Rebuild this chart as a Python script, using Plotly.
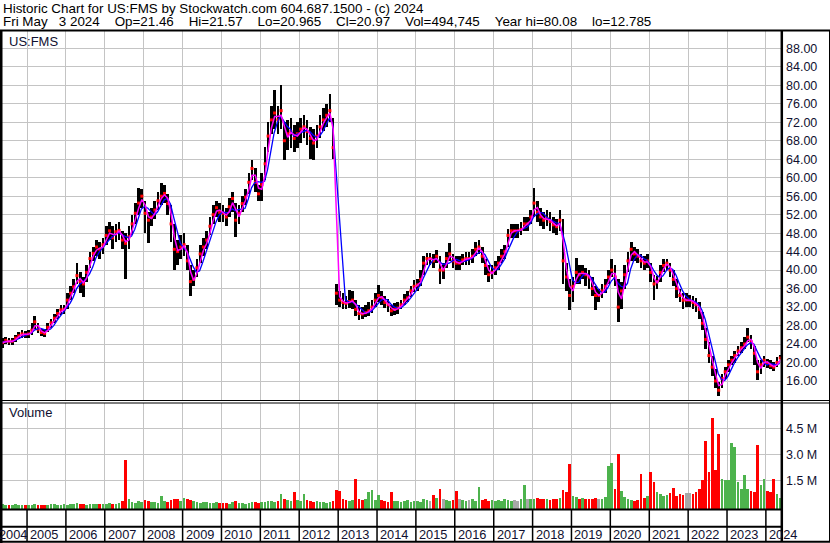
import pandas as pd
import plotly.graph_objects as go

W, H = 830, 543

# monthly values, May 2004 .. May 2024
months = pd.date_range("2004-05-01", "2024-05-01", freq="MS") + pd.Timedelta(days=14)

closes = [
    24.3, 24.8, 24.5, 24.6, 25.3, 25.8, 26.2, 26.0,
    26.2, 27.0, 28.8, 27.2, 26.5, 26.3, 27.6, 28.6, 29.6, 30.6, 31.4, 31.5,
    33.5, 35.0, 36.4, 38.8, 37.5, 37.0, 39.5, 42.5, 43.6, 45.0, 44.5, 45.5,
    47.5, 48.5, 47.0, 48.3, 48.6, 46.5, 45.8, 47.2, 50.0, 52.3, 54.5, 56.0,
    52.3, 50.8, 51.5, 53.0, 55.0, 56.0, 56.6, 54.4, 50.0, 44.5, 44.0, 45.0,
    45.5, 42.0, 37.5, 38.0, 40.5, 43.5, 45.0, 46.5, 49.5, 52.0, 53.5, 52.5,
    52.3, 51.5, 53.7, 55.5, 50.8, 52.3, 54.4, 55.8, 59.0, 62.0, 59.0, 56.5,
    58.5, 63.0, 69.0, 72.5, 74.0, 72.5, 74.5, 68.0, 69.5, 70.0, 68.5, 69.5,
    70.5, 71.0, 70.0, 68.5, 67.5, 69.0, 71.0, 72.5, 73.5, 74.5, 66.5, 35.0,
    33.5, 33.0, 32.8, 33.2, 33.5, 31.5, 30.6, 30.5, 30.8, 31.2, 32.0, 33.5,
    34.5, 34.0, 33.0, 32.5, 31.2, 31.5, 31.8, 32.5, 33.5, 34.0, 35.5, 36.5,
    36.8, 38.0, 41.5, 42.5, 42.5, 42.0, 43.0, 40.0, 40.0, 42.5, 43.5, 42.0,
    41.5, 41.5, 42.2, 42.5, 42.5, 43.0, 44.5, 45.0, 43.0, 41.0, 39.0, 39.5,
    40.5, 41.5, 43.0, 44.0, 47.5, 48.5, 48.5, 48.5, 48.8, 50.0, 50.0, 51.5,
    54.5, 52.5, 51.5, 50.8, 51.2, 50.5, 49.8, 49.4, 50.8, 42.0, 38.5, 34.5,
    36.5, 39.5, 39.0, 39.5, 39.0, 38.5, 36.0, 34.5, 34.5, 35.5, 36.5, 38.5,
    40.0, 38.5, 32.0, 35.5, 39.0, 42.0, 44.5, 43.5, 43.0, 42.0, 41.5, 42.0,
    39.5, 37.0, 37.5, 39.5, 41.0, 41.5, 40.0, 38.0, 36.0, 34.5, 33.5, 33.5,
    33.5, 33.0, 32.5, 31.5, 28.5, 25.0, 21.5, 19.0, 16.0, 14.0, 16.5, 18.0,
    19.5, 20.5, 21.5, 22.5, 23.2, 24.0, 25.5, 24.5, 22.0, 18.0, 19.5, 20.5,
    19.8, 19.3, 19.0, 20.0, 20.97,
]

highs = [
    25.2, 25.6, 25.4, 25.3, 26.0, 26.5, 27.0, 26.8,
    27.0, 28.5, 30.0, 28.5, 27.3, 27.2, 28.5, 29.5, 30.5, 31.5, 32.5, 32.5,
    35.0, 36.5, 38.0, 41.5, 39.5, 38.5, 41.0, 44.0, 45.0, 46.5, 46.0, 47.0,
    49.5, 50.5, 49.5, 50.0, 50.5, 48.5, 48.0, 49.5, 52.0, 54.5, 57.7, 57.5,
    55.0, 52.5, 53.5, 55.0, 57.0, 58.8, 58.5, 56.5, 54.0, 50.0, 46.5, 47.5,
    48.0, 45.5, 41.0, 40.0, 42.5, 45.5, 47.0, 48.5, 51.5, 54.0, 55.0, 54.5,
    54.0, 53.5, 55.5, 57.0, 54.5, 54.0, 56.0, 57.5, 61.0, 63.8, 62.0, 58.5,
    61.0, 66.6, 72.0, 75.5, 79.0, 75.5, 80.0, 72.0, 72.5, 73.0, 71.5, 72.0,
    73.0, 73.5, 72.5, 71.0, 70.5, 71.5, 73.5, 75.0, 76.0, 78.2, 73.0, 37.0,
    35.5, 35.0, 34.5, 35.7, 35.5, 33.5, 32.5, 32.0, 32.5, 33.0, 33.5, 35.0,
    36.7, 35.5, 34.5, 33.8, 32.5, 32.8, 33.0, 33.5, 34.8, 35.5, 36.5, 37.8,
    38.0, 40.0, 43.0, 43.8, 43.8, 43.5, 44.3, 43.0, 41.5, 44.0, 45.8, 43.5,
    43.0, 43.0, 43.5, 44.0, 44.0, 44.5, 46.0, 46.5, 45.0, 42.5, 41.0, 41.0,
    42.0, 43.0, 44.5, 45.5, 49.0, 50.0, 50.0, 50.0, 50.5, 51.5, 51.5, 53.0,
    57.8, 55.0, 53.5, 52.5, 53.0, 52.5, 51.5, 51.0, 53.0, 51.0, 41.5, 38.0,
    38.5, 42.6, 41.0, 41.0, 40.5, 40.0, 38.5, 36.5, 36.0, 37.0, 38.0, 40.0,
    42.5, 41.0, 38.0, 37.5, 41.0, 44.0, 46.1, 45.0, 44.5, 43.5, 43.0, 43.5,
    41.5, 39.0, 38.8, 41.0, 42.5, 42.5, 41.5, 40.0, 38.0, 36.0, 35.0, 35.0,
    34.6, 34.5, 34.0, 33.0, 31.0, 27.5, 24.5, 21.5, 18.5, 15.8, 17.5, 19.0,
    20.5, 21.5, 22.5, 23.5, 24.5, 25.5, 27.4, 26.0, 23.5, 20.5, 20.5, 21.5,
    20.8, 20.5, 20.2, 21.2, 21.57,
]

lows = [
    23.2, 24.0, 23.8, 23.9, 24.5, 25.0, 25.4, 25.3,
    25.3, 26.0, 27.2, 26.3, 25.8, 25.5, 26.5, 27.5, 28.5, 29.5, 30.3, 30.5,
    31.5, 33.5, 35.0, 37.0, 35.0, 34.2, 37.5, 40.5, 42.0, 43.0, 42.5, 43.5,
    45.5, 46.5, 44.5, 46.0, 46.5, 44.5, 38.0, 44.5, 47.5, 50.0, 52.0, 53.5,
    48.0, 45.8, 49.5, 51.0, 53.0, 54.0, 54.5, 52.0, 46.0, 40.0, 41.0, 42.5,
    43.0, 40.0, 34.5, 36.5, 38.5, 41.5, 43.0, 44.5, 47.5, 50.0, 51.5, 50.5,
    50.5, 49.5, 51.5, 52.5, 47.2, 50.0, 52.5, 54.0, 56.5, 59.5, 57.0, 55.0,
    55.0, 59.5, 65.5, 69.5, 70.5, 69.5, 70.5, 63.8, 66.0, 66.5, 65.5, 66.5,
    67.5, 68.5, 67.0, 64.0, 63.8, 66.5, 68.5, 70.0, 71.0, 72.0, 64.0, 32.5,
    32.0, 31.5, 31.5, 31.8, 31.5, 30.0, 29.2, 29.5, 29.8, 30.0, 30.8, 32.0,
    33.0, 32.5, 31.8, 31.0, 30.0, 30.3, 30.5, 31.5, 32.5, 33.0, 34.2, 35.2,
    35.5, 36.5, 39.0, 41.0, 41.0, 40.5, 41.5, 37.0, 38.0, 40.5, 42.0, 40.5,
    40.0, 40.0, 41.0, 41.0, 41.0, 41.5, 43.0, 43.5, 41.5, 39.0, 37.5, 38.0,
    39.0, 40.0, 41.5, 42.5, 45.0, 47.0, 47.0, 47.0, 47.5, 48.5, 48.5, 50.0,
    51.5, 50.5, 49.5, 49.0, 49.5, 48.5, 48.0, 47.6, 48.5, 37.0, 35.5, 31.4,
    33.0, 37.0, 37.0, 38.0, 36.5, 36.0, 34.5, 31.4, 33.0, 34.0, 35.0, 37.0,
    38.5, 36.5, 28.8, 31.5, 36.0, 39.5, 42.0, 42.0, 41.5, 40.5, 40.0, 40.5,
    37.5, 33.5, 36.0, 37.5, 39.5, 40.0, 38.5, 36.5, 34.0, 33.0, 31.5, 32.0,
    32.0, 31.5, 31.0, 29.5, 27.0, 23.0, 20.0, 17.0, 14.5, 12.8, 14.5, 16.5,
    18.0, 19.5, 20.0, 21.5, 22.0, 23.0, 24.5, 23.0, 19.5, 16.2, 17.5, 19.0,
    18.8, 18.5, 18.2, 19.0, 20.965,
]

# volume in millions of shares
volumes = [
    0.12, 0.10, 0.08, 0.09, 0.12, 0.10, 0.08, 0.10,
    0.10, 0.08, 0.12, 0.08, 0.07, 0.10, 0.09, 0.13, 0.12, 0.10, 0.09, 0.12,
    0.10, 0.14, 0.12, 0.18, 0.15, 0.12, 0.10, 0.12, 0.11, 0.13, 0.12, 0.15,
    0.12, 0.18, 0.15, 0.14, 0.20, 0.28, 2.70, 0.40, 0.25, 0.20, 0.30, 0.25,
    0.35, 0.30, 0.25, 0.22, 0.20, 0.60, 0.30, 0.25, 0.35, 0.45, 0.40, 0.30,
    0.46, 0.40, 0.38, 0.30, 0.25, 0.20, 0.22, 0.25, 0.20, 0.18, 0.25, 0.20,
    0.18, 0.20, 0.15, 0.22, 0.30, 0.20, 0.18, 0.15, 0.20, 0.25, 0.22, 0.18,
    0.22, 0.25, 0.30, 0.28, 0.25, 0.30, 0.70, 0.40, 0.35, 0.30, 0.80, 0.35,
    0.30, 0.71, 0.35, 0.30, 0.25, 0.30, 0.27, 0.25, 0.20, 0.25, 0.30, 0.94,
    0.90, 0.45, 0.35, 0.30, 0.35, 1.58, 0.40, 0.35, 0.40, 0.85, 0.93, 0.35,
    0.65, 0.35, 0.30, 0.25, 0.85, 0.30, 0.30, 0.25, 0.30, 0.35, 0.25, 0.30,
    0.30, 0.25, 0.40, 0.35, 0.30, 0.65, 0.50, 1.00, 0.40, 0.35, 0.30, 0.35,
    0.90, 0.45, 0.35, 0.30, 0.35, 0.40, 0.30, 1.13, 0.35, 0.40, 0.30, 0.35,
    0.30, 0.35, 0.30, 0.45, 0.35, 0.30, 0.35, 0.30, 0.40, 1.23, 0.45, 0.40,
    0.45, 0.50, 0.45, 0.45, 0.40, 0.35, 0.40, 0.45, 0.50, 0.95, 0.80, 2.45,
    0.60, 0.55, 0.45, 0.46, 0.45, 0.40, 0.45, 0.50, 0.45, 0.45, 0.55, 2.30,
    2.50, 1.00, 3.00, 0.90, 0.55, 0.40, 0.35, 0.30, 0.35, 1.87, 0.50, 0.60,
    2.00, 1.42, 0.80, 0.70, 0.60, 0.65, 0.75, 1.04, 0.60, 0.70, 0.65, 0.75,
    0.75, 0.70, 0.80, 1.00, 1.50, 3.78, 2.00, 5.10, 2.10, 4.20, 1.60, 1.50,
    1.50, 3.64, 3.45, 1.40, 1.00, 1.80, 1.00, 0.90, 0.80, 3.54, 1.23, 1.56,
    0.90, 0.80, 1.60, 0.70, 0.50,
]

price_ticks = list(range(16, 92, 4))
volume_ticks = [1.5e6, 3.0e6, 4.5e6]
volume_tick_text = ["1.5 M", "3.0 M", "4.5 M"]
years = list(range(2004, 2025))

NB = "\u00a0"
header_1 = "Historic Chart for US:FMS by Stockwatch.com 604.687.1500 - (c) 2024"
header_2 = (f"Fri May{NB * 3}3 2024{NB * 4}Op=21.46{NB * 4}Hi=21.57{NB * 4}"
            f"Lo=20.965{NB * 4}Cl=20.97{NB * 4}Vol=494,745{NB * 4}"
            f"Year hi=80.08{NB * 4}lo=12.785")

FONT = "Liberation Sans, Arial, sans-serif"
TXT = "#101030"
GRID = "#c4c4c4"
X_RANGE = ["2004-04-22", "2024-05-22"]
PRICE_RANGE = [11.89, 91.74]
VOL_RANGE = [-0.156e6, 5.96e6]


def px(x):
    return x / W


def py(y):
    return 1 - y / H


df = pd.DataFrame({"date": months, "close": closes, "high": highs,
                   "low": lows, "vol": [v * 1e6 for v in volumes]})
# short (magenta) and long (blue) moving averages
df["ma_short"] = df["close"].rolling(2, min_periods=1).mean()
df["ma_long"] = df["close"].rolling(4, min_periods=1).mean()

change = df["close"].diff().fillna(1)
vol_colors = ["#4db34d" if c > 0 else ("#ff0000" if c < 0 else "#a8a8a8") for c in change]

bar_w = 25 * 86400000
ma_dates = df["date"] - pd.Timedelta(days=5)

fig = go.Figure()

# high-low range bars
fig.add_trace(go.Bar(
    x=df["date"], y=df["high"] - df["low"], base=df["low"],
    width=bar_w, marker=dict(color="#000000", line=dict(width=0)),
    xaxis="x", yaxis="y", hoverinfo="skip"
))
fig.add_trace(go.Scatter(
    x=df["date"], y=df["close"], mode="markers",
    marker=dict(color="#ff0000", size=3, symbol="square", line=dict(width=0)),
    xaxis="x", yaxis="y", hoverinfo="skip"
))
fig.add_trace(go.Scatter(
    x=ma_dates, y=df["ma_long"], mode="lines",
    line=dict(color="#0000ff", width=1.3),
    xaxis="x", yaxis="y"
))
fig.add_trace(go.Scatter(
    x=df["date"], y=df["ma_short"], mode="lines",
    line=dict(color="#ff00ff", width=1.5),
    xaxis="x", yaxis="y"
))

# volume
fig.add_trace(go.Bar(
    x=df["date"], y=df["vol"] - VOL_RANGE[0], base=VOL_RANGE[0],
    width=bar_w, marker=dict(color=vol_colors, line=dict(width=0)),
    xaxis="x2", yaxis="y2", hoverinfo="skip"
))

year_starts = [f"{y}-01-01" for y in years[1:]]

common_x = dict(
    type="date", range=X_RANGE, domain=[0, px(781)],
    tickvals=year_starts, showticklabels=False, ticks="",
    showgrid=True, gridcolor=GRID, gridwidth=1,
    zeroline=False, showline=False, fixedrange=True,
)

fig.update_layout(
    width=W, height=H,
    margin=dict(l=0, r=0, t=0, b=0),
    paper_bgcolor="white", plot_bgcolor="white",
    showlegend=False, barmode="overlay", bargap=0,
    font=dict(family=FONT, size=12, color=TXT),
    xaxis=dict(anchor="y", **common_x),
    xaxis2=dict(anchor="y2", matches="x", **common_x),
    yaxis=dict(
        domain=[py(400), py(31)], range=PRICE_RANGE, side="right",
        tickvals=price_ticks, tickformat=".2f", ticks="",
        ticklabelstandoff=4,
        tickfont=dict(family=FONT, size=12.5, color=TXT),
        showgrid=True, gridcolor=GRID, gridwidth=1,
        zeroline=False, showline=False, fixedrange=True,
    ),
    yaxis2=dict(
        domain=[py(509), py(403)], range=VOL_RANGE, side="right",
        tickvals=volume_ticks, ticktext=volume_tick_text, ticks="",
        ticklabelstandoff=4,
        tickfont=dict(family=FONT, size=12.5, color=TXT),
        showgrid=True, gridcolor=GRID, gridwidth=1,
        zeroline=False, showline=False, fixedrange=True,
    ),
)

shapes = []


def hline(y, x0, x1, w):
    shapes.append(dict(type="line", xref="paper", yref="paper",
                       x0=px(x0), x1=px(x1), y0=py(y), y1=py(y),
                       line=dict(color="black", width=w)))


def vline(x, y0, y1, w):
    shapes.append(dict(type="line", xref="paper", yref="paper",
                       x0=px(x), x1=px(x), y0=py(y0), y1=py(y1),
                       line=dict(color="black", width=w)))


# frame
hline(30.5, 0, 830, 2)
hline(400.5, 0, 830, 1)
hline(403, 0, 830, 1)
hline(509.5, 0, 782, 2)
hline(526.8, 0, 782, 2)
hline(541.8, 0, 830, 2)
vline(1, 30, 543, 3)
vline(781.8, 30, 542, 2.5)
vline(829.5, 30, 542, 1)

# year separators in the date strip
for d in year_starts:
    shapes.append(dict(type="line", xref="x", yref="paper",
                       x0=d, x1=d, y0=py(541), y1=py(509),
                       line=dict(color="black", width=1.5)))

fig.update_layout(shapes=shapes)

annotations = [
    dict(text=header_1, x=px(1), y=py(8.5), font=dict(family=FONT, size=13.4, color="#000000")),
    dict(text=header_2, x=px(1), y=py(21.5), font=dict(family=FONT, size=13.4, color="#000000")),
    dict(text="US:FMS", x=px(7), y=py(41.5), font=dict(family=FONT, size=13, color=TXT)),
    dict(text="Volume", x=px(7), y=py(413), font=dict(family=FONT, size=13, color=TXT)),
]
for a in annotations:
    a.update(xref="paper", yref="paper", xanchor="left", yanchor="middle", showarrow=False)

for i, y in enumerate(years):
    if i == 0:
        annotations.append(dict(text=str(y), xref="paper", x=0, xshift=-3))
    else:
        annotations.append(dict(text=str(y), xref="x", x=f"{y}-01-01", xshift=1))
    annotations[-1].update(yref="paper", y=py(534.5), xanchor="left", yanchor="middle",
                           showarrow=False, font=dict(family=FONT, size=12.8, color=TXT))

fig.update_layout(annotations=annotations)

# the page adds a default body margin; remove it so the chart sits at the corner
fig.write_html("out.html", config={"displayModeBar": False},
               post_script="document.body.style.margin='0';")
